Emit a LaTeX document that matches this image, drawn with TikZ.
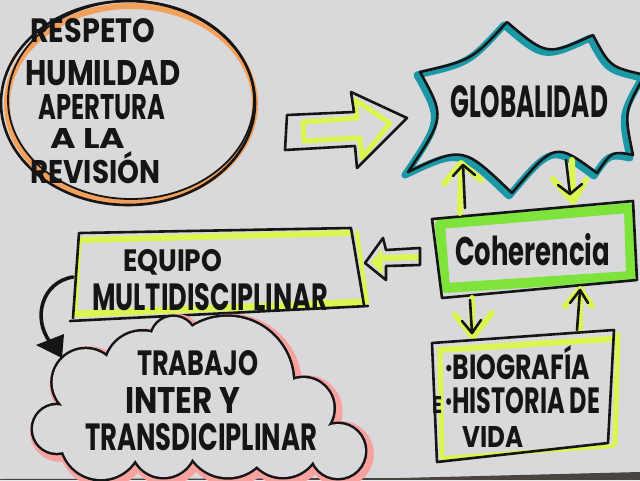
\documentclass[tikz,border=0pt]{standalone}
\usepackage{fontspec}
\usepackage{graphicx}
\setmainfont{Poppins}
\usetikzlibrary{arrows.meta}
\definecolor{paper}{HTML}{D9D9DB}
\definecolor{tablec}{HTML}{4A4440}
\definecolor{inkc}{HTML}{151515}
\definecolor{orangec}{HTML}{F3A05A}
\definecolor{tealc}{HTML}{1B98A6}
\definecolor{greenc}{HTML}{7EE33A}
\definecolor{hlc}{HTML}{DCF550}
\definecolor{pinkc}{HTML}{F8A2A0}
\newcommand{\hw}[3]{\resizebox{#1pt}{#2pt}{\bfseries #3}}
\begin{document}
\begin{tikzpicture}[x=1pt,y=-1pt,line join=round,line cap=round,
  ink/.style={draw=inkc,line width=2.6pt},
  hl/.style={draw=hlc,line width=6pt},
  txt/.style={anchor=base west,inner sep=0pt,text=inkc}]
\fill[paper] (0,0) rectangle (640,480);
\useasboundingbox (0,0) rectangle (640,480);
\fill[tablec] (0,479) -- (400,478) -- (640,472) -- (640,480) -- (0,480) -- cycle;

% ---------- ellipse ----------
\draw[orangec,line width=6pt] (131,104) ellipse [x radius=124pt,y radius=98pt];
\draw[ink] (128,103) ellipse [x radius=127pt,y radius=102pt];
\draw[ink,line width=1.8pt] (131,100) ellipse [x radius=123pt,y radius=99pt];
\node[txt] (t1) at (30,42) {\hw{125}{24}{RESPETO}};
\node[txt] (t2) at (25,85) {\hw{155}{25}{HUMILDAD}};
\node[txt] (t3) at (38,119) {\hw{127}{25}{APERTURA}};
\node[txt] (t4) at (50,148) {\hw{75}{20}{A LA}};
\node[txt] (t5) at (30,183) {\hw{130}{32}{REVISIÓN}};

% ---------- big right arrow ----------
\draw[hl,line width=5pt] (303,122) -- (357,118) -- (355,100) -- (390,123) -- (362,158) -- (360,138) -- (304,141) -- cycle;
\draw[ink] (287,115) -- (354,112) -- (351,92) -- (407,118) -- (357,168) -- (355,146) -- (285,150) -- cycle;

% ---------- globalidad ----------
\def\burst{(408,172) .. controls (445,117) .. (420,72) .. controls (472,60) .. (507,22) .. controls (547,56) .. (593,35) .. controls (610,67) .. (645,75) .. controls (624,112) .. (633,155) .. controls (612,151) .. (597,173) .. controls (555,142) .. (512,193) .. controls (463,146) .. (408,172) -- cycle}
\draw[tealc,line width=7pt,shift={(-3,3)}] \burst;
\draw[ink] \burst;
\node[txt] (glob) at (450,117) {\hw{158}{32}{GLOBALIDAD}};

% ---------- coherencia ----------
\draw[greenc,line width=10pt] (440,224) -- (629,208) -- (631,276) -- (445,288) -- cycle;
\draw[ink] (432,219) -- (633,201) -- (637,280) -- (442,298) -- cycle;
\node[txt] (coh) at (455,265) {\hw{155}{32}{Coherencia}};

% arrows coherencia <-> globalidad
\coordinate (a1s) at (465,208); \coordinate (a1e) at (463,165);
\draw[hl] (460,213) -- (461,168);
\draw[hl] (444,184) -- (461,163) -- (481,180);
\draw[ink] (a1s) -- (a1e);
\draw[ink] (453,176) -- (a1e) -- (475,175);
\coordinate (a2s) at (566,160); \coordinate (a2e) at (570,194);
\draw[hl] (572,160) -- (573,198);
\draw[hl] (553,179) -- (573,202) -- (586,180);
\draw[ink] (a2s) -- (a2e);
\draw[ink] (558,185) -- (a2e) -- (582,184);

% arrows coherencia <-> biografia
\coordinate (a3s) at (470,300); \coordinate (a3e) at (472,333);
\draw[hl] (472,298) -- (472,333);
\draw[hl] (455,315) -- (473,337) -- (492,313);
\draw[ink] (a3s) -- (a3e);
\draw[ink] (462,321) -- (a3e) -- (481,320);
\coordinate (a4s) at (577,330); \coordinate (a4e) at (580,290);
\draw[hl] (580,330) -- (580,295);
\draw[hl] (565,306) -- (580,289) -- (592,306);
\draw[ink] (a4s) -- (a4e);
\draw[ink] (570,303) -- (a4e) -- (588,303);

% ---------- left arrow ----------
\draw[hl] (418,257) -- (382,258);
\fill[hlc] (371,262) -- (382,249) -- (383,275) -- cycle;
\draw[ink] (420,248) -- (386,250) -- (383,238) -- (365,263) -- (386,280) -- (386,266) -- (420,265) -- cycle;

% ---------- equipo ----------
\draw[hl] (82,240) -- (350,233);
\draw[hl,line width=7pt] (76,314) -- (364,302);
\draw[hl,line width=3pt] (80,240) -- (76,312);
\draw[hl,line width=4pt] (357,232) -- (367,303);
\draw[ink] (80,233) -- (351,228) -- (364,305);
\draw[ink] (70,321) -- (368,306);
\draw[ink] (79,233) -- (73,318);
\node[txt] (eq1) at (123,271) {\hw{99}{22}{EQUIPO}};
\node[txt] (eq2) at (92,310) {\hw{236}{27}{MULTIDISCIPLINAR}};

% curved arrow to cloud
\coordinate (c1s) at (73,277); \coordinate (c1e) at (50,342);
\draw[ink,line width=3.6pt] (c1s) .. controls (42,282) and (32,318) .. (c1e);
\fill[inkc] (36,345) -- (64,334) -- (62,358) -- cycle;

% ---------- cloud ----------
\def\cloudcircles{%
  (142.5,369) circle [radius=37.5pt]
  (173.4,339.1) circle [radius=22.2pt]
  (227.3,382.5) circle [radius=65.7pt]
  (303.4,408.2) circle [radius=30.1pt]
  (338,451) circle [radius=27pt]
  (283,440.5) circle [radius=36.5pt]
  (227.9,434.1) circle [radius=43.1pt]
  (163.5,445.4) circle [radius=31.6pt]
  (101,439) circle [radius=40pt]
  (56.8,429) circle [radius=23.8pt]
  (85.7,382.2) circle [radius=33pt]}
\draw[pinkc,line width=12pt,shift={(3,3)}] \cloudcircles;
\filldraw[draw=inkc,fill=paper,line width=5pt] \cloudcircles;
\fill[paper] \cloudcircles;
\fill[paper] (110,361) -- (153,337) -- (192,331) -- (289,382) -- (322,427) -- (309,459) -- (257,462) -- (192,454) -- (135,456) -- (67,448) -- (67,406) -- cycle;
\node[txt] (cl1) at (137,375) {\hw{121}{25}{TRABAJO}};
\node[txt] (cl2) at (125,413) {\hw{115}{26}{INTER Y}};
\node[txt] (cl3) at (85,450) {\hw{232}{27}{TRANSDICIPLINAR}};

% ---------- biografia ----------
\draw[hl] (440,350) -- (611,339);
\draw[hl,line width=5pt] (618,335) -- (615,444);
\draw[hl,line width=5pt] (440,350) -- (442,455);
\draw[hl,line width=4pt] (442,458) -- (612,446);
\draw[ink] (432,343) -- (614,330) -- (608,443) -- (437,462) -- cycle;
\node[txt] (bi1) at (445,379) {\hw{145}{34}{·BIOGRAFÍA}};
\node[txt] (bi0) at (432,413) {\hw{10}{17}{E}};
\node[txt] (bi2) at (445,413) {\hw{155}{26}{·HISTORIA DE}};
\node[txt] (bi3) at (462,447) {\hw{61}{21}{VIDA}};
\end{tikzpicture}
\end{document}
